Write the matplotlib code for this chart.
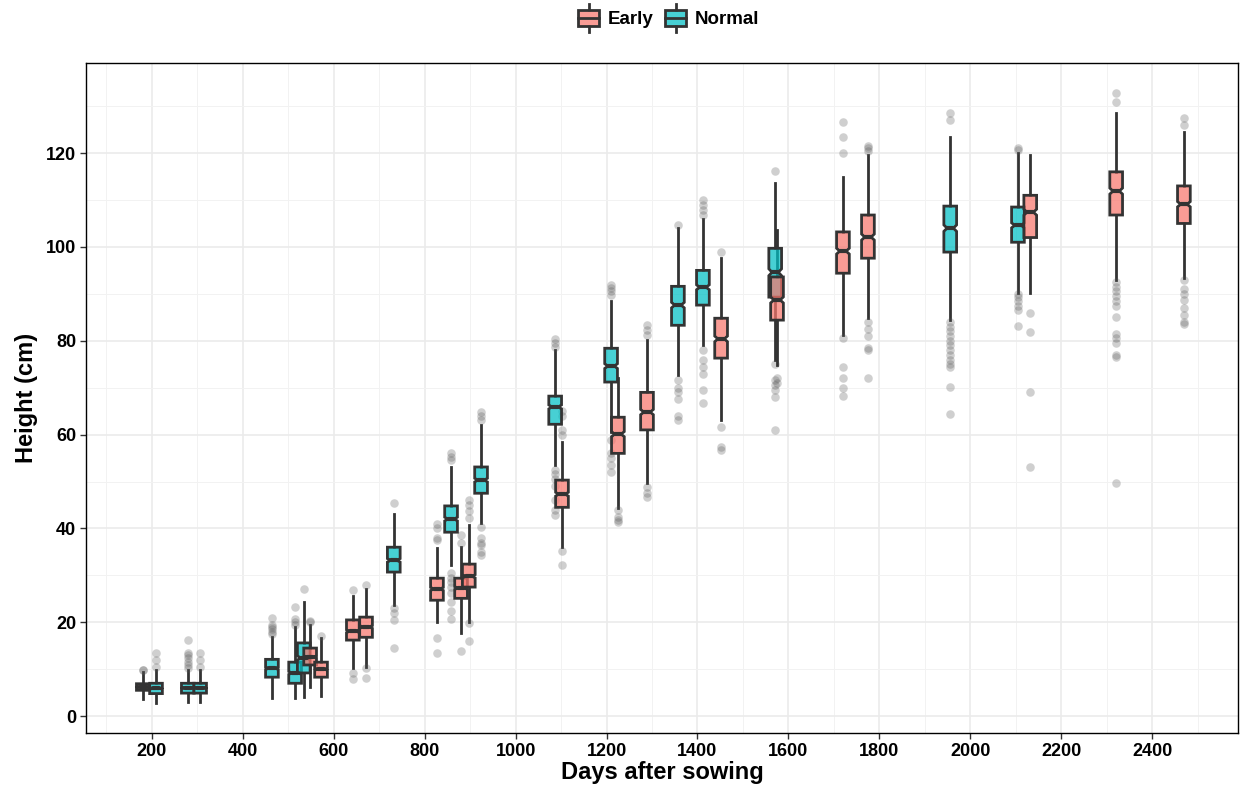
import matplotlib
matplotlib.use("Agg")
import matplotlib.pyplot as plt
from matplotlib.patches import Rectangle
from matplotlib.lines import Line2D
from matplotlib.legend_handler import HandlerBase
import numpy as np

plt.rcParams['font.family'] = ['Liberation Sans', 'DejaVu Sans']

# ---- data ----
days = [180, 209, 279, 306, 464, 515, 534, 548, 572, 642, 671, 732, 827, 858, 880, 897, 924,
        1087, 1102, 1210, 1225, 1289, 1357, 1412, 1452, 1571, 1575, 1720, 1775, 1956, 2105,
        2132, 2321, 2470]
groups = ["Early", "Normal", "Normal", "Normal", "Normal", "Normal", "Normal", "Early", "Early",
          "Early", "Early", "Normal", "Early", "Normal", "Early", "Early", "Normal",
          "Normal", "Early", "Normal", "Early", "Early", "Normal", "Normal", "Early", "Normal",
          "Early", "Early", "Early", "Normal", "Normal", "Early", "Early", "Early"]
whisk_lo = [3.6, 2.8, 3.0, 3.0, 3.8, 3.8, 4.1, 6.2, 4.3, 10.2, 10.5, 23.7, 20.0, 32.2, 17.7, 20.0, 41.1,
            53.5, 36.0, 60.5, 44.3, 49.7, 72.7, 79.1, 63.1, 76.0, 74.8, 81.2, 84.8, 84.4, 90.2,
            90.2, 92.9, 93.3]
q1 = [5.5, 4.8, 4.9, 4.9, 8.3, 7.0, 9.2, 10.9, 8.3, 16.2, 16.8, 30.7, 24.7, 39.2, 25.1, 27.5, 47.5,
      62.2, 44.5, 71.2, 56.0, 61.0, 83.3, 87.6, 76.3, 89.3, 84.4, 94.4, 97.6, 98.9, 101.0,
      102.0, 106.8, 105.0]
med = [6.2, 5.9, 6.0, 6.0, 10.2, 9.2, 12.4, 12.6, 10.0, 18.1, 19.0, 33.2, 27.1, 42.0, 27.3, 29.8, 50.3,
       65.9, 47.3, 74.6, 60.1, 64.8, 87.6, 91.4, 80.4, 94.6, 88.7, 99.1, 102.1, 104.0, 104.6,
       107.4, 111.9, 109.1]
q3 = [6.9, 7.0, 7.0, 7.0, 12.1, 11.5, 15.6, 14.5, 11.5, 20.5, 21.1, 36.0, 29.4, 44.8, 29.4, 32.4, 53.1,
      68.2, 50.3, 78.4, 63.7, 69.0, 91.6, 95.0, 84.8, 99.7, 93.6, 103.2, 106.8, 108.7, 108.5,
      111.0, 116.0, 113.0]
whisk_hi = [9.5, 9.8, 9.8, 9.8, 16.8, 19.0, 24.3, 19.5, 16.6, 25.5, 27.0, 43.0, 35.8, 53.0, 36.0, 40.7, 62.0,
            78.0, 58.5, 88.5, 72.0, 80.1, 104.0, 106.0, 97.6, 113.6, 103.6, 114.9, 119.5, 123.4, 120.0,
            119.5, 128.5, 124.5]
outliers = [
    [9.8, 9.9],
    [10.4, 11.9, 13.4],
    [10.2, 10.8, 11.5, 12.3, 13.0, 13.4, 16.2],
    [10.4, 11.9, 13.4],
    [17.5, 18.0, 18.5, 19.0, 19.5, 20.9],
    [19.4, 20.0, 20.7, 23.2],
    [27.1],
    [20.0, 20.3],
    [17.0],
    [26.9, 9.2, 7.9],
    [27.9, 10.2, 8.1],
    [45.4, 23.0, 22.0, 20.5, 14.5],
    [41.0, 40.0, 38.0, 37.5, 16.6, 13.4],
    [54.6, 55.3, 56.0, 30.5, 29.4, 28.5, 27.5, 26.2, 24.3, 22.4, 20.7],
    [37.0, 38.5, 13.9],
    [42.3, 43.7, 45.0, 46.0, 19.8, 16.0],
    [63.1, 64.0, 64.8, 40.3, 38.0, 37.0, 36.5, 35.0, 34.3],
    [78.6, 79.5, 80.3, 52.5, 51.5, 50.5, 49.0, 46.0, 44.0, 42.8],
    [60.0, 61.0, 64.0, 65.0, 35.2, 32.2],
    [89.7, 90.5, 91.2, 91.9, 58.8, 56.0, 55.0, 53.5, 52.0],
    [43.9, 42.5, 41.8, 41.3],
    [81.2, 82.3, 83.3, 48.8, 47.5, 46.7],
    [104.6, 71.6, 70.0, 69.0, 67.5, 64.0, 63.1],
    [106.8, 107.8, 108.9, 110.0, 78.0, 76.0, 74.5, 73.0, 69.6, 66.7],
    [99.0, 61.6, 57.3, 56.7],
    [116.2, 75.0, 71.6, 70.5, 69.5, 68.0, 61.0],
    [72.0, 71.0],
    [120.0, 123.4, 126.6, 80.6, 74.5, 72.0, 69.9, 68.2],
    [120.4, 121.0, 121.5, 84.0, 82.5, 81.0, 78.5, 78.0, 72.0],
    [127.0, 128.5, 84.0, 83.0, 82.0, 81.0, 80.0, 79.0, 78.0, 77.0, 76.0, 75.0, 74.5, 70.1, 64.4],
    [120.6, 121.0, 90.0, 89.3, 88.5, 87.5, 86.5, 83.1],
    [85.9, 81.8, 69.1, 53.1],
    [130.9, 132.8, 92.5, 91.5, 90.5, 89.5, 88.5, 87.5, 85.0, 81.5, 80.5, 79.5, 77.0, 76.5, 49.7],
    [126.0, 127.5, 92.9, 91.0, 90.0, 88.7, 87.0, 85.5, 84.0, 83.5],
]
group_names = ["Early", "Normal"]
group_colors = {"Early": "#F8766D", "Normal": "#00BFC4"}

# ---- figure ----
W, H = 1241, 793
fig = plt.figure(figsize=(W / 100, H / 100), dpi=100)
ax = fig.add_axes([86 / W, 1 - 733 / H, (1238 - 86) / W, (733 - 63) / H])

edge = "#333333"
box_w = 28
for i in range(len(days)):
    iqr = q3[i] - q1[i]
    stats = [dict(med=med[i], q1=q1[i], q3=q3[i], whislo=whisk_lo[i], whishi=whisk_hi[i],
                  cilo=med[i] - 0.07 * iqr, cihi=med[i] + 0.07 * iqr, fliers=[])]
    fc = matplotlib.colors.to_rgba(group_colors[groups[i]])
    art = ax.bxp(stats, positions=[days[i]], widths=box_w, shownotches=True, patch_artist=True,
                 showcaps=False, showfliers=False, manage_ticks=False,
                 boxprops=dict(facecolor=(fc[0], fc[1], fc[2], 0.72), edgecolor=edge, linewidth=2.0),
                 whiskerprops=dict(color=edge, linewidth=2.0),
                 medianprops=dict(color=edge, linewidth=3.0, solid_capstyle='round'))
    for b in art['boxes']:
        b.set_zorder(3)
    for m in art['medians']:
        m.set_zorder(4)
    ax.scatter([days[i]] * len(outliers[i]), outliers[i], s=38, color="#555555", alpha=0.28,
               linewidths=0, zorder=2)

ax.set_xlim(55, 2589)
ax.set_ylim(-3.6, 139.2)
ax.set_xticks(np.arange(200, 2401, 200))
ax.set_xticks(np.arange(100, 2600, 100), minor=True)
ax.set_yticks(np.arange(0, 121, 20))
ax.set_yticks(np.arange(10, 140, 20), minor=True)
ax.grid(which='major', color="#ebebeb", linewidth=1.2, zorder=0)
ax.grid(which='minor', color="#f2f2f2", linewidth=0.7, zorder=0)
ax.set_axisbelow(True)
for s in ax.spines.values():
    s.set_color("black")
    s.set_linewidth(1.0)
ax.tick_params(which='major', length=4, width=1, color="#333333", labelsize=13, pad=3)
ax.tick_params(which='minor', length=0)
for lab in ax.get_xticklabels() + ax.get_yticklabels():
    lab.set_fontweight('bold')
    lab.set_color('black')
ax.set_xlabel("Days after sowing", fontsize=17, fontweight='bold', labelpad=1)
ax.set_ylabel("Height (cm)", fontsize=17, fontweight='bold', labelpad=6)


class BoxHandler(HandlerBase):
    def create_artists(self, legend, orig_handle, xdescent, ydescent, width, height, fontsize, trans):
        c = orig_handle.get_facecolor()
        bw = width * 0.9
        x0 = (width - bw) / 2 - xdescent
        y0 = -ydescent + height * 0.0
        bh = height * 1.0
        rect = Rectangle((x0, y0), bw, bh, facecolor=c, edgecolor=edge, linewidth=2.0, transform=trans)
        cx = x0 + bw / 2
        l1 = Line2D([cx, cx], [y0 + bh, y0 + bh + height * 0.35], color=edge, linewidth=2.0, transform=trans)
        l2 = Line2D([cx, cx], [y0 - height * 0.35, y0], color=edge, linewidth=2.0, transform=trans)
        l3 = Line2D([x0, x0 + bw], [y0 + bh / 2, y0 + bh / 2], color=edge, linewidth=2.0, transform=trans)
        return [l1, l2, rect, l3]


handles = []
for g in group_names:
    fc = matplotlib.colors.to_rgba(group_colors[g])
    handles.append(Rectangle((0, 0), 1, 1, facecolor=(fc[0], fc[1], fc[2], 0.72)))
leg = fig.legend(handles, group_names, loc='center', bbox_to_anchor=(668 / W, 1 - 19 / H),
                 ncol=2, frameon=False, handler_map={Rectangle: BoxHandler()},
                 prop=dict(weight='bold', size=13.5), handlelength=1.3, handleheight=1.0,
                 handletextpad=0.4, columnspacing=0.5)

fig.savefig("out.png", dpi=100, facecolor="white")
